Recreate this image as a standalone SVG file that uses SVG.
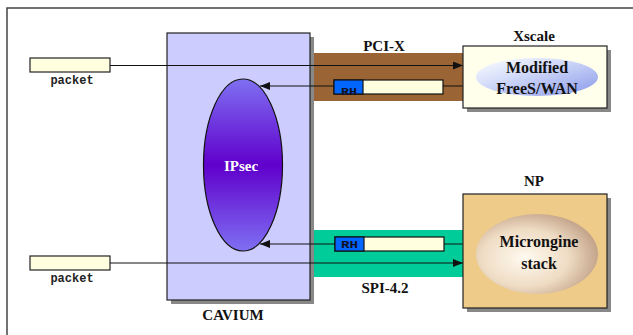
<svg xmlns="http://www.w3.org/2000/svg" width="633" height="335" viewBox="0 0 633 335">
<defs>
<style>
.lbl{font-family:"Liberation Serif","Times New Roman",serif;font-weight:bold;font-size:15px;fill:#111;text-anchor:middle}
.in{font-size:16px}
.mono{font-family:"Liberation Mono","Courier New",monospace;font-weight:bold;font-size:12px;fill:#222;text-anchor:middle}
.rh{font-family:"Liberation Mono","Courier New",monospace;font-weight:bold;font-size:10px;fill:#112}
.pkt{fill:#ffffe0;stroke:#222;stroke-width:1.2}
.shadow{fill:#888}
.wire{stroke:#111;stroke-width:1.2;fill:none}
</style>
<linearGradient id="ipsecG" x1="0" y1="0" x2="0" y2="1">
<stop offset="0" stop-color="#7f70f2"/>
<stop offset="0.5" stop-color="#6000cc"/>
<stop offset="1" stop-color="#7f70f2"/>
</linearGradient>
<linearGradient id="modG" x1="0" y1="0" x2="1" y2="1">
<stop offset="0" stop-color="#ffffff"/>
<stop offset="0.35" stop-color="#d8e0fa"/>
<stop offset="1" stop-color="#8898ea"/>
</linearGradient>
<radialGradient id="micG" cx="0.4" cy="0.55" r="0.65">
<stop offset="0" stop-color="#fffaf0"/>
<stop offset="0.55" stop-color="#efdcc4"/>
<stop offset="1" stop-color="#bb9a80"/>
</radialGradient>
<marker id="arr" markerWidth="10" markerHeight="8" refX="10" refY="4" orient="auto" markerUnits="userSpaceOnUse">
<path d="M0,0 L10,4 L0,8 Z" fill="#111"/>
</marker>
</defs>
<rect width="633" height="335" fill="#fff"/>
<path d="M7,340 L7,8 L640,8" fill="none" stroke="#444" stroke-width="1.5"/>

<g id="pcix-bus">
<rect x="305" y="53" width="158" height="48" fill="#9a6434"/>
<text class="lbl" x="384" y="51">PCI-X</text>
</g>
<g id="spi-bus">
<rect x="305" y="230" width="158" height="47" fill="#00cc99"/>
<text class="lbl" x="385" y="293">SPI-4.2</text>
</g>

<g id="cavium">
<rect class="shadow" x="171" y="37" width="143" height="267"/>
<rect x="167" y="33" width="143" height="267" fill="#ccccff" stroke="#222" stroke-width="1.2"/>
<text class="lbl" x="233" y="320">CAVIUM</text>
</g>

<g id="ipsec">
<ellipse cx="243" cy="165" rx="39.5" ry="86" fill="url(#ipsecG)" stroke="#111" stroke-width="1.2"/>
<text class="lbl" x="241" y="171" style="fill:#fff">IPsec</text>
</g>

<g id="packet-top">
<rect class="pkt" x="30" y="58" width="80" height="14"/>
<text class="mono" x="72" y="84">packet</text>
</g>
<g id="packet-bottom">
<rect class="pkt" x="30" y="256" width="80" height="14"/>
<text class="mono" x="72" y="282">packet</text>
</g>

<g id="connectors">
<line class="wire" x1="110" y1="65.5" x2="463" y2="65.5" marker-end="url(#arr)"/>
<line class="wire" x1="463" y1="86" x2="260" y2="86" marker-end="url(#arr)"/>
<line class="wire" x1="463" y1="244" x2="260" y2="244" marker-end="url(#arr)"/>
<line class="wire" x1="110" y1="263" x2="463" y2="263" marker-end="url(#arr)"/>
</g>

<g id="rh-packet-top">
<rect x="334" y="80" width="109" height="14" fill="#ffffe0" stroke="#111" stroke-width="1.2"/>
<rect x="334" y="80" width="29" height="14" fill="#0066ff" stroke="#111" stroke-width="1.2"/>
<text class="rh" x="341" y="95" textLength="16" lengthAdjust="spacingAndGlyphs">RH</text>
</g>
<g id="rh-packet-bottom">
<rect x="335" y="237" width="109" height="14" fill="#ffffe0" stroke="#111" stroke-width="1.2"/>
<rect x="335" y="237" width="29" height="14" fill="#0066ff" stroke="#111" stroke-width="1.2"/>
<text class="rh" x="341" y="248" textLength="17" lengthAdjust="spacingAndGlyphs">RH</text>
</g>

<g id="xscale">
<rect class="shadow" x="467" y="50" width="144" height="62"/>
<rect x="463" y="46" width="144" height="62" fill="#ffffeb" stroke="#222" stroke-width="1.2"/>
<ellipse cx="537" cy="77" rx="61" ry="19" fill="url(#modG)"/>
<text class="lbl" x="534" y="41">Xscale</text>
<text class="lbl in" x="537" y="73">Modified</text>
<text class="lbl in" x="537" y="94">FreeS/WAN</text>
</g>

<g id="np">
<rect class="shadow" x="467" y="198" width="144" height="114"/>
<rect x="463" y="194" width="144" height="114" fill="#eecb88" stroke="#222" stroke-width="1.2"/>
<ellipse cx="537" cy="254" rx="61" ry="40" fill="url(#micG)"/>
<text class="lbl" x="534" y="186">NP</text>
<text class="lbl in" x="539" y="247">Microngine</text>
<text class="lbl in" x="539" y="269">stack</text>
</g>
</svg>
